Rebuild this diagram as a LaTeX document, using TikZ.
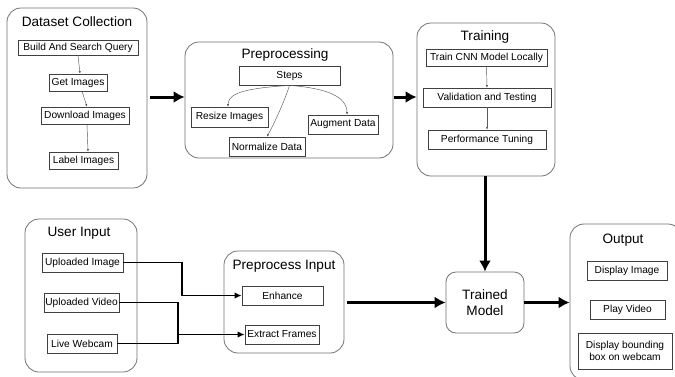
\documentclass[tikz,border=0pt]{standalone}
\usepackage{fontspec}
\setmainfont{Liberation Sans}
\usetikzlibrary{arrows.meta}
\tikzset{
  cont/.style={draw=black!55, line width=0.8pt, rounded corners=14pt, inner sep=0pt},
  ttl/.style={inner sep=0pt, font=\fontsize{13.6}{16}\selectfont},
  bx/.style={draw=black!75, line width=0.8pt, inner sep=0pt, align=center, font=\fontsize{10.2}{12}\selectfont},
  thin/.style={draw=black!65, line width=0.45pt, -{Latex[length=2.5pt,width=2.2pt]}},
  big/.style={line width=3pt, -{Latex[length=11pt,width=12pt]}},
  mid/.style={line width=1.6pt, -{Latex[length=7pt,width=6.5pt]}},
}
\newcommand{\bxnode}[6]{\node[bx, minimum width=#4pt, minimum height=#5pt] (#1) at (#2,#3) {#6};}
\begin{document}
\begin{tikzpicture}[x=1pt,y=-1pt]
\useasboundingbox (0,0) rectangle (675,376);
\clip (0,0) rectangle (675,376);
\fill[white] (0,0) rectangle (675,376);
% containers
\node[cont, minimum width=140pt, minimum height=180pt] (dc) at (77,98) {};
\node[cont, minimum width=208pt, minimum height=116pt] (pp) at (289,100) {};
\node[cont, minimum width=138pt, minimum height=153pt] (tr) at (486,99.5) {};
\node[cont, minimum width=112pt, minimum height=153pt] (ui) at (81,295.5) {};
\node[cont, minimum width=120pt, minimum height=102pt] (pi) at (284,302) {};
\node[cont, minimum width=112pt, minimum height=156pt] (out) at (626,302) {};
\node[cont, rounded corners=10pt, minimum width=78pt, minimum height=61pt, align=center, font=\fontsize{13.6}{16}\selectfont] (tm) at (485,302.5) {Trained\\Model};
% titles
\node[ttl] (tdc) at (77,22) {Dataset Collection};
\node[ttl] (tpp) at (285,55) {Preprocessing};
\node[ttl] (ttr) at (485,37) {Training};
\node[ttl] (tui) at (79,233) {User Input};
\node[ttl] (tpi) at (284,266) {Preprocess Input};
\node[ttl] (tout) at (623,240) {Output};
% boxes
\bxnode{b1}{78}{47.5}{120}{15}{Build And Search Query}
\bxnode{b2}{78}{82.5}{58}{17}{Get Images}
\bxnode{b3}{85}{115.5}{88}{17}{Download Images}
\bxnode{b4}{83.5}{160.5}{69}{17}{Label Images}
\bxnode{st}{289.5}{75.5}{101}{19}{Steps}
\bxnode{rs}{229.5}{117}{77}{20}{Resize Images}
\bxnode{nd}{267}{146.5}{76}{19}{Normalize Data}
\bxnode{ad}{343}{124.5}{70}{19}{Augment Data}
\bxnode{t1}{486.5}{57.5}{121}{17}{Train CNN Model Locally}
\bxnode{t2}{487}{97.5}{128}{19}{Validation and Testing}
\bxnode{t3}{487}{139.5}{118}{19}{Performance Tuning}
\bxnode{u1}{82.5}{262.5}{81}{19}{Uploaded Image}
\bxnode{u2}{81.5}{302.5}{75}{19}{Uploaded Video}
\bxnode{u3}{82}{343.5}{70}{19}{Live Webcam}
\bxnode{e1}{282.5}{295.5}{81}{19}{Enhance}
\bxnode{e2}{282}{334.5}{74}{19}{Extract Frames}
\bxnode{o1}{627}{270.5}{80}{19}{Display Image}
\bxnode{o2}{627.5}{309.5}{75}{19}{Play Video}
\bxnode{o3}{625}{351}{94}{36}{Display bounding\\box on webcam}
% thin arrows
\draw[thin] (b1.south) -- ([xshift=2pt]b2.north);
\draw[thin] ([xshift=4pt]b2.south) -- ([xshift=2pt]b3.north);
\draw[thin] ([xshift=2pt]b3.south) -- ([xshift=4.5pt]b4.north);
\draw[thin] (t1.south) -- (t2.north);
\draw[thin] (t2.south) -- (t3.north);
\draw[thin] (st.south) .. controls (250,88) and (228,92) .. ([xshift=-1.5pt]rs.north);
\draw[thin] (st.south) .. controls (285,100) and (275,122) .. (nd.north);
\draw[thin] (st.south) .. controls (325,88) and (347,96) .. ([xshift=4pt]ad.north);
% big arrows
\draw[big] ([xshift=3pt]dc.east |- 0,97) coordinate (a1) -- (pp.west |- a1);
\draw[big] ([xshift=1pt]pp.east |- 0,97) coordinate (a2) -- (tr.west |- a2);
\draw[big] (tr.south -| tm.north) -- (tm.north);
\draw[big] ([xshift=3pt]pi.east |- tm.west) -- (tm.west);
\draw[big] (tm.east) -- (out.west |- tm.east);
% lower connectors
\coordinate (j1) at (182,262.5);
\coordinate (j2) at (178,334.5);
\draw[mid] (u1.east) -- (j1) |- (e1.west);
\draw[mid] (u2.east) -| (j2) -- (e2.west);
\draw[line width=1.6pt] (u3.east) -| (j2);
\end{tikzpicture}
\end{document}
